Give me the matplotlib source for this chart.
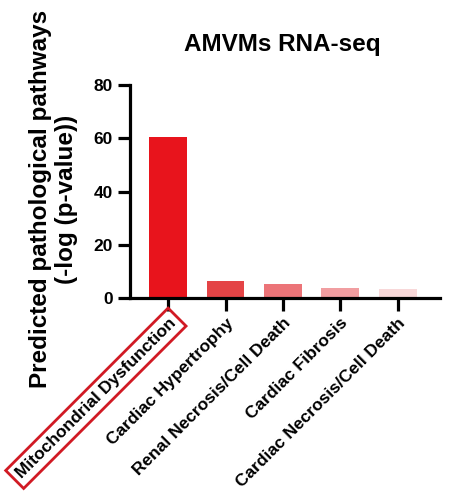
import matplotlib.pyplot as plt
import numpy as np

plt.rcParams['font.family'] = ['Liberation Sans', 'DejaVu Sans']

pathways = ['Mitochondrial Dysfunction', 'Cardiac Hypertrophy', 'Renal Necrosis/Cell Death',
            'Cardiac Fibrosis', 'Cardiac Necrosis/Cell Death']
neg_log_p = [60.7, 6.5, 5.4, 3.9, 3.6]
bar_colors = ['#e8141c', '#e44446', '#ec7478', '#f19ea1', '#f8d8d9']
yticks = [0, 20, 40, 60, 80]

fig = plt.figure(figsize=(4.52, 5.01), dpi=100)
ax = fig.add_axes([0.288, 0.405, 0.685, 0.425])

x = np.arange(len(pathways))
ax.bar(x, neg_log_p, width=0.66, color=bar_colors)
ax.set_xlim(-0.66, 4.73)
ax.set_ylim(0, 80)
ax.set_yticks(yticks)
ax.set_xticks(x)
ax.set_xticklabels(pathways, rotation=45, ha='right', rotation_mode='anchor',
                   fontsize=12.5, fontweight='bold')
for lab in ax.get_yticklabels():
    lab.set_fontweight('bold')
    lab.set_fontsize(12.5)

# red box round the first category
ax.get_xticklabels()[0].set_bbox(dict(boxstyle='square,pad=0.3', facecolor='none',
                                      edgecolor='#d11a24', linewidth=2))

for s in ['top', 'right']:
    ax.spines[s].set_visible(False)
for s in ['left', 'bottom']:
    ax.spines[s].set_linewidth(2.3)
ax.tick_params(width=2.3, length=9)

ax.set_ylabel('Predicted pathological pathways\n(-log (p-value))', fontsize=17.5,
              fontweight='bold')
ax.yaxis.set_label_coords(-0.168, 0.465)
fig.text(282 / 452, 1 - 45 / 501, 'AMVMs RNA-seq', fontsize=17.5, fontweight='bold',
         ha='center', va='center')

fig.savefig('out.png', dpi=100)
